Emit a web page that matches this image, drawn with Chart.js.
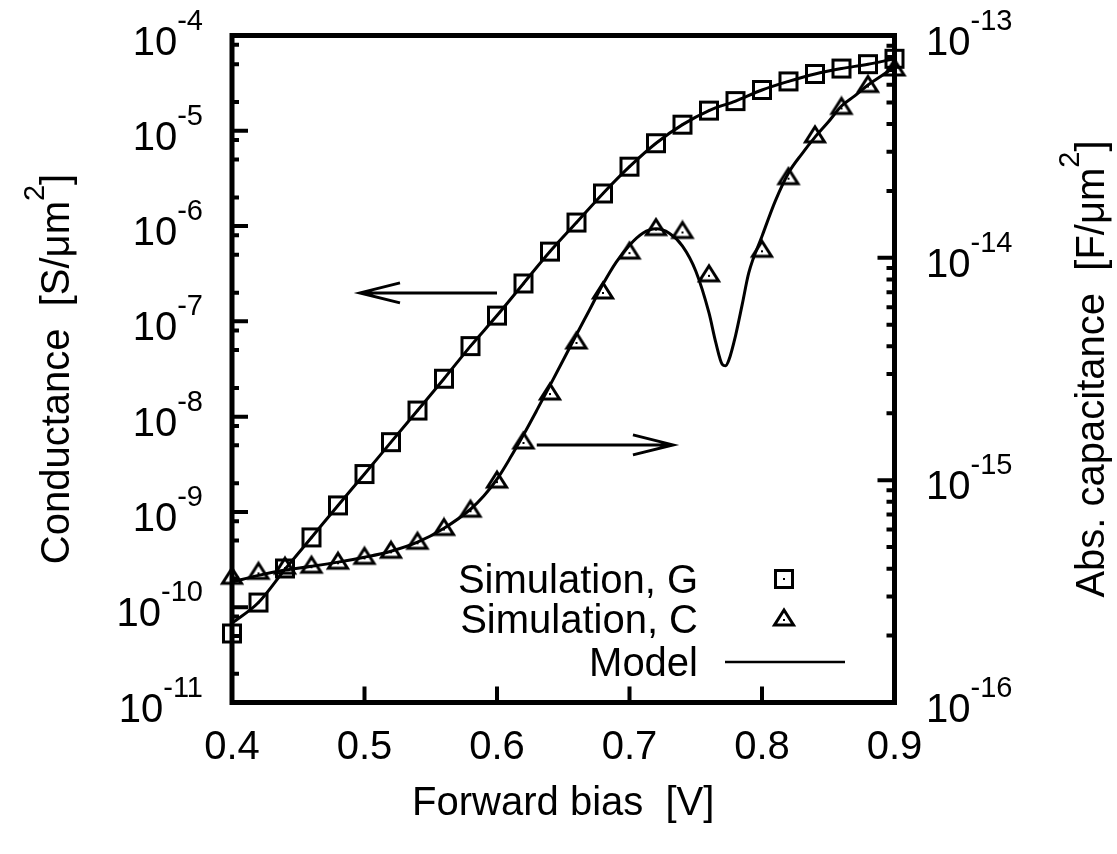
<!DOCTYPE html>
<html>
<head>
<meta charset="utf-8">
<script src="https://cdn.jsdelivr.net/npm/chart.js@4.4.1/dist/chart.umd.min.js"></script>
<style>
  html, body { margin: 0; padding: 0; background: #fff; }
  #wrap { width: 1117px; height: 854px; }
</style>
</head>
<body>
<div id="wrap"><canvas id="chart" width="1117" height="854"></canvas></div>
<script>
// ── Data ──────────────────────────────────────────────────────────────────
const biasSim = [0.40, 0.42, 0.44, 0.46, 0.48, 0.50, 0.52, 0.54, 0.56, 0.58, 0.60, 0.62, 0.64,
                 0.66, 0.68, 0.70, 0.72, 0.74, 0.76, 0.78, 0.80, 0.82, 0.84, 0.86, 0.88, 0.90];
const condSim = [5.3e-11, 1.12e-10, 2.55e-10, 5.4e-10, 1.17e-9, 2.5e-9, 5.4e-9, 1.16e-8, 2.5e-8,
                 5.5e-8, 1.15e-7, 2.5e-7, 5.4e-7, 1.09e-6, 2.2e-6, 4.2e-6, 7.4e-6, 1.16e-5,
                 1.63e-5, 2.05e-5, 2.68e-5, 3.3e-5, 3.95e-5, 4.5e-5, 5.0e-5, 5.7e-5];
const capSim = [3.62e-16, 3.81e-16, 4.02e-16, 4.06e-16, 4.23e-16, 4.45e-16, 4.74e-16, 5.2e-16,
                6.0e-16, 7.25e-16, 9.8e-16, 1.47e-15, 2.44e-15, 4.14e-15, 6.95e-15, 1.05e-14,
                1.34e-14, 1.30e-14, 8.3e-15, null, 1.07e-14, 2.27e-14, 3.5e-14, 4.7e-14,
                5.9e-14, 7.0e-14];

const condModel = [6.8e-11, 1.12e-10, 2.5e-10, 5.4e-10, 1.17e-9, 2.5e-9, 5.4e-9, 1.16e-8, 2.5e-8,
                   5.5e-8, 1.15e-7, 2.5e-7, 5.4e-7, 1.09e-6, 2.2e-6, 4.2e-6, 7.4e-6, 1.16e-5,
                   1.63e-5, 2.05e-5, 2.68e-5, 3.3e-5, 3.95e-5, 4.5e-5, 5.0e-5, 5.7e-5];

const biasCapModel = [0.40, 0.42, 0.44, 0.46, 0.48, 0.50, 0.52, 0.54, 0.56, 0.58, 0.59, 0.60,
                      0.61, 0.62, 0.63, 0.64, 0.65, 0.66, 0.67, 0.68, 0.69, 0.70, 0.71, 0.72,
                      0.73, 0.74, 0.75, 0.76, 0.765, 0.77, 0.7725, 0.775, 0.78, 0.785, 0.79,
                      0.80, 0.81, 0.82, 0.83, 0.84, 0.85, 0.86, 0.87, 0.88, 0.89, 0.90];
const capModel = [3.48e-16, 3.73e-16, 3.94e-16, 4.10e-16, 4.28e-16, 4.50e-16, 4.79e-16, 5.26e-16,
                  6.08e-16, 7.40e-16, 8.48e-16, 1.01e-15, 1.26e-15, 1.60e-15, 2.06e-15, 2.67e-15,
                  3.47e-15, 4.52e-15, 5.86e-15, 7.62e-15, 9.57e-15, 1.14e-14, 1.29e-14, 1.35e-14,
                  1.29e-14, 1.13e-14, 8.73e-15, 5.65e-15, 4.19e-15, 3.32e-15, 3.27e-15, 3.47e-15,
                  4.46e-15, 6.14e-15, 8.55e-15, 1.25e-14, 1.80e-14, 2.41e-14, 2.93e-14, 3.49e-14,
                  4.08e-14, 4.82e-14, 5.35e-14, 5.99e-14, 6.57e-14, 7.21e-14];

// ── Axes ticks ────────────────────────────────────────────────────────────
const xTicks = [0.4, 0.5, 0.6, 0.7, 0.8, 0.9];
const xTickLabels = ['0.4', '0.5', '0.6', '0.7', '0.8', '0.9'];
const leftExps = [-11, -10, -9, -8, -7, -6, -5, -4];
const leftMinor = [2, 5, 8];
const rightExps = [-16, -15, -14, -13];
const rightMinor = [2, 3, 4, 5, 6, 7, 8, 9];

const legendLabels = ['Simulation, G', 'Simulation, C', 'Model'];

// arrows pointing to each curve's axis (x in V, y on the conductance axis)
const arrows = [
    { x0: 0.600, x1: 0.4966, y: 1.99e-7 },
    { x0: 0.630, x1: 0.7328, y: 5.05e-9 }
];

const FONT = '"Liberation Sans", Arimo, Arial, sans-serif';

// ── Marker images (gnuplot style: hollow with centre dot) ────────────────
function squareMarker() {
    const c = document.createElement('canvas');
    c.width = 24; c.height = 24;
    const g = c.getContext('2d');
    g.strokeStyle = '#000';
    g.lineWidth = 3;
    g.strokeRect(3.5, 3.5, 17, 17);
    g.fillStyle = '#000';
    g.fillRect(11, 11, 2, 2);
    return c;
}

function triangleMarker() {
    const c = document.createElement('canvas');
    c.width = 26; c.height = 26;
    const g = c.getContext('2d');
    g.strokeStyle = '#000';
    g.lineWidth = 3;
    g.beginPath();
    g.moveTo(13, 3);
    g.lineTo(22.5, 18);
    g.lineTo(3.5, 18);
    g.closePath();
    g.stroke();
    g.fillStyle = '#000';
    g.fillRect(12, 12, 2, 2);
    return c;
}

const sqImg = squareMarker();
const triImg = triangleMarker();

function pts(xs, ys) {
    return xs.map((x, i) => ({ x: x, y: ys[i] }));
}

// ── Text helpers ──────────────────────────────────────────────────────────
function powParts(exp) {
    return [{ t: '10', size: 40, dy: 0 }, { t: '-' + Math.abs(exp), size: 29, dy: -25 }];
}

function partsWidth(ctx, parts) {
    let w = 0;
    parts.forEach(p => { ctx.font = p.size + 'px ' + FONT; w += ctx.measureText(p.t).width; });
    return w;
}

function drawParts(ctx, parts, x, y) {
    let cx = x;
    parts.forEach(p => {
        ctx.font = p.size + 'px ' + FONT;
        ctx.fillText(p.t, cx, y + p.dy);
        cx += ctx.measureText(p.t).width;
    });
}

// ── Frame, ticks, labels, legend and arrows ──────────────────────────────
const framePlugin = {
    id: 'gnuFrame',
    afterDraw(chart) {
        const ctx = chart.ctx;
        const a = chart.chartArea;
        const sx = chart.scales.x, sy = chart.scales.y, sy2 = chart.scales.y2;
        ctx.save();
        ctx.fillStyle = '#000';
        ctx.strokeStyle = '#000';
        ctx.textBaseline = 'alphabetic';

        // ticks
        ctx.lineWidth = 4;
        ctx.beginPath();
        xTicks.forEach(v => {
            const px = sx.getPixelForValue(v);
            ctx.moveTo(px, a.bottom);
            ctx.lineTo(px, a.bottom - 16);
        });
        leftExps.forEach(e => {
            const py = sy.getPixelForValue(Math.pow(10, e));
            ctx.moveTo(a.left, py);
            ctx.lineTo(a.left + 16, py);
            if (e < -4) {
                leftMinor.forEach(m => {
                    const pm = sy.getPixelForValue(m * Math.pow(10, e));
                    ctx.moveTo(a.left, pm);
                    ctx.lineTo(a.left + 7, pm);
                });
            }
        });
        rightExps.forEach(e => {
            const py = sy2.getPixelForValue(Math.pow(10, e));
            ctx.moveTo(a.right, py);
            ctx.lineTo(a.right - 17, py);
            if (e < -13) {
                rightMinor.forEach(m => {
                    const pm = sy2.getPixelForValue(m * Math.pow(10, e));
                    ctx.moveTo(a.right, pm);
                    ctx.lineTo(a.right - 8, pm);
                });
            }
        });
        ctx.stroke();

        // frame
        ctx.lineWidth = 5;
        ctx.strokeRect(a.left, a.top, a.right - a.left, a.bottom - a.top);

        // tick labels
        ctx.font = '40px ' + FONT;
        ctx.textAlign = 'center';
        xTicks.forEach((v, i) => {
            ctx.fillText(xTickLabels[i], sx.getPixelForValue(v), 759);
        });
        ctx.textAlign = 'left';
        leftExps.forEach(e => {
            const parts = powParts(e);
            const py = sy.getPixelForValue(Math.pow(10, e));
            drawParts(ctx, parts, 203 - partsWidth(ctx, parts), py + 19);
        });
        rightExps.forEach(e => {
            const py = sy2.getPixelForValue(Math.pow(10, e));
            drawParts(ctx, powParts(e), 926, py + 19);
        });

        // axis titles
        const midY = (a.top + a.bottom) / 2;
        ctx.font = '40px ' + FONT;
        ctx.textAlign = 'center';
        ctx.fillText('Forward bias  [V]', (a.left + a.right) / 2, 815);

        const leftTitle = [{ t: 'Conductance  [S/\u03bcm', size: 40, dy: 0 },
                           { t: '2', size: 29, dy: -25 }, { t: ']', size: 40, dy: 0 }];
        const rightTitle = [{ t: 'Abs. capacitance  [F/\u03bcm', size: 40, dy: 0 },
                            { t: '2', size: 29, dy: -25 }, { t: ']', size: 40, dy: 0 }];
        ctx.textAlign = 'left';
        [[leftTitle, 69], [rightTitle, 1104]].forEach(([parts, bx]) => {
            ctx.save();
            ctx.translate(bx, midY);
            ctx.rotate(-Math.PI / 2);
            drawParts(ctx, parts, -partsWidth(ctx, parts) / 2, 0);
            ctx.restore();
        });

        // legend
        ctx.font = '40px ' + FONT;
        ctx.textAlign = 'right';
        const baselines = [593, 633, 676];
        legendLabels.forEach((lab, i) => ctx.fillText(lab, 698, baselines[i]));
        ctx.drawImage(sqImg, 784 - 12, 579 - 12);
        ctx.drawImage(triImg, 784 - 13, 620 - 13);
        ctx.lineWidth = 2.7;
        ctx.beginPath();
        ctx.moveTo(725, 662);
        ctx.lineTo(845, 662);
        ctx.stroke();

        // arrows
        ctx.lineWidth = 3;
        arrows.forEach(ar => {
            const p0 = sx.getPixelForValue(ar.x0);
            const p1 = sx.getPixelForValue(ar.x1);
            const py = sy.getPixelForValue(ar.y);
            const dir = p1 > p0 ? 1 : -1;
            ctx.beginPath();
            ctx.moveTo(p0, py);
            ctx.lineTo(p1, py);
            ctx.moveTo(p1 - dir * 40, py - 10);
            ctx.lineTo(p1, py);
            ctx.lineTo(p1 - dir * 40, py + 10);
            ctx.stroke();
        });

        ctx.restore();
    }
};

// ── Chart ─────────────────────────────────────────────────────────────────
new Chart(document.getElementById('chart').getContext('2d'), {
    type: 'scatter',
    data: {
        datasets: [
            {
                label: 'Model G',
                data: pts(biasSim, condModel),
                yAxisID: 'y',
                showLine: true,
                borderColor: '#000',
                borderWidth: 3,
                pointRadius: 0,
                cubicInterpolationMode: 'monotone',
                clip: false
            },
            {
                label: 'Model C',
                data: pts(biasCapModel, capModel),
                yAxisID: 'y2',
                showLine: true,
                borderColor: '#000',
                borderWidth: 3,
                pointRadius: 0,
                cubicInterpolationMode: 'monotone',
                clip: false
            },
            {
                label: legendLabels[0],
                data: pts(biasSim, condSim),
                yAxisID: 'y',
                pointStyle: sqImg,
                pointRadius: 10,
                clip: false
            },
            {
                label: legendLabels[1],
                data: pts(biasSim, capSim),
                yAxisID: 'y2',
                pointStyle: triImg,
                pointRadius: 10,
                clip: false
            }
        ]
    },
    options: {
        responsive: false,
        devicePixelRatio: 1,
        animation: false,
        layout: { padding: { left: 232, right: 222.5, top: 35.5, bottom: 151.5 } },
        plugins: { legend: { display: false }, tooltip: { enabled: false } },
        scales: {
            x: { type: 'linear', display: false, min: 0.4, max: 0.9 },
            y: { type: 'logarithmic', display: false, position: 'left', min: 1e-11, max: 1e-4 },
            y2: { type: 'logarithmic', display: false, position: 'right', min: 1e-16, max: 1e-13 }
        }
    },
    plugins: [framePlugin]
});
</script>
</body>
</html>
